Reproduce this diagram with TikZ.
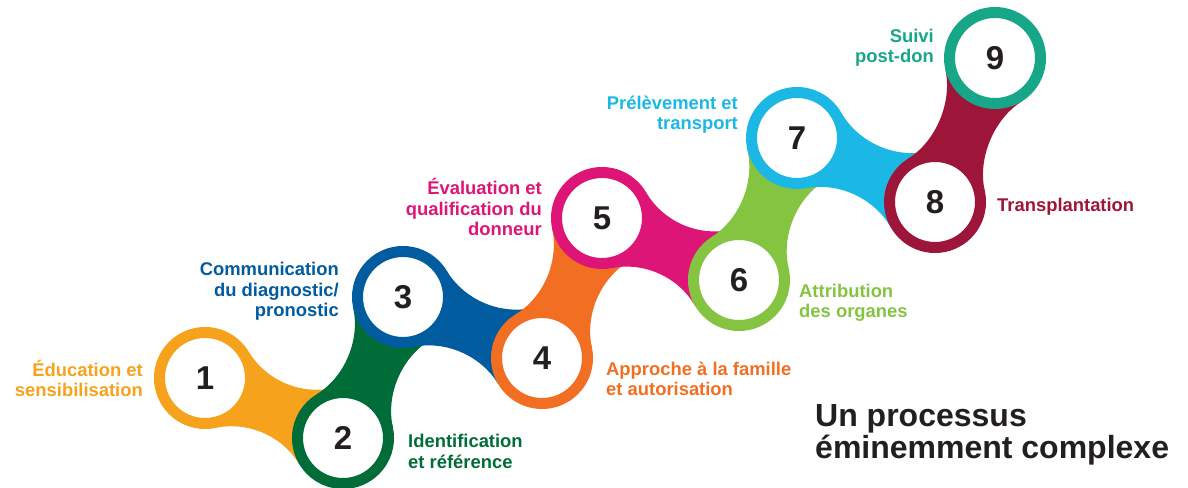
\documentclass[tikz,border=0pt]{standalone}
\usepackage{fontspec}
\setmainfont{Liberation Sans}
\usepackage{tikz}
\usetikzlibrary{calc}

\pgfdeclarelayer{background}
\pgfsetlayers{background,main}

\definecolor{cOne}{HTML}{F6A21D}
\definecolor{cTwo}{HTML}{006D38}
\definecolor{cThree}{HTML}{005B9F}
\definecolor{cFour}{HTML}{F26E22}
\definecolor{cFive}{HTML}{DC1577}
\definecolor{cSix}{HTML}{84C441}
\definecolor{cSeven}{HTML}{1BB8E5}
\definecolor{cEight}{HTML}{9D1539}
\definecolor{cNine}{HTML}{17A688}
\definecolor{ink}{HTML}{231F20}

\newcommand{\neck}[3]{%
	\fill[#3] let \p1=(#1.center), \p2=(#2.center), \n1={atan2(\y2-\y1,\x2-\x1)} in
		($(\p1)+(\n1+54.5:51pt)$) .. controls +(\n1-35.5:33pt) and +(\n1+215.5:33pt) .. ($(\p2)+(\n1+125.5:51pt)$)
		-- ($(\p2)+(\n1+234.5:51pt)$) .. controls +(\n1+144.5:33pt) and +(\n1+35.5:33pt) .. ($(\p1)+(\n1-54.5:51pt)$)
		-- cycle;}

\begin{document}
\begin{tikzpicture}[
		x=1pt, y=1pt,
		stage/.style={
			circle,
			draw=#1,
			fill=white,
			line width=11pt,
			minimum size=91pt,
			inner sep=0pt,
			text=ink,
			font=\fontsize{33}{33}\selectfont\bfseries
		},
		tagright/.style={
			anchor=base east,
			align=right,
			inner sep=0pt,
			text=#1,
			font=\fontsize{18.4}{20.5}\selectfont\bfseries
		},
		tagleft/.style={
			anchor=base west,
			align=left,
			inner sep=0pt,
			text=#1,
			font=\fontsize{18.4}{20.5}\selectfont\bfseries
		}
	]
	
	\useasboundingbox (0,0) rectangle (1188,487);
	
	\node[stage=cOne] (c1) at (205,109) {1};
	\node[stage=cTwo] (c2) at (343,49) {2};
	\node[stage=cThree] (c3) at (403,190) {3};
	\node[stage=cFour] (c4) at (542,129) {4};
	\node[stage=cFive] (c5) at (602,269) {5};
	\node[stage=cSix] (c6) at (739,207) {6};
	\node[stage=cSeven] (c7) at (797,349) {7};
	\node[stage=cEight] (c8) at (935,285) {8};
	\node[stage=cNine] (c9) at (995,429) {9};
	
	\begin{pgfonlayer}{background}
		\neck{c1}{c2}{cOne}
		\neck{c2}{c3}{cTwo}
		\neck{c3}{c4}{cThree}
		\neck{c4}{c5}{cFour}
		\neck{c5}{c6}{cFive}
		\neck{c6}{c7}{cSix}
		\neck{c7}{c8}{cSeven}
		\neck{c8}{c9}{cEight}
	\end{pgfonlayer}
	
	\node[tagright=cOne] (t1) at (143,90) {Éducation et\\sensibilisation};
	\node[tagleft=cTwo] (t2) at (408,19) {Identification\\et référence};
	\node[tagright=cThree] (t3) at (339,170) {Communication\\du diagnostic/\\pronostic};
	\node[tagleft=cFour] (t4) at (606,91) {Approche à la famille\\et autorisation};
	\node[tagright=cFive] (t5) at (542,251) {Évaluation et\\qualification du\\donneur};
	\node[tagleft=cSix] (t6) at (799,169) {Attribution\\des organes};
	\node[tagright=cSeven] (t7) at (738,357) {Prélèvement et\\transport};
	\node[tagleft=cEight] (t8) at (997,275) {Transplantation};
	\node[tagright=cNine] (t9) at (934,424) {Suivi\\post-don};
	
	\node[anchor=base west, align=left, inner sep=0pt, text=ink, font=\fontsize{32}{32}\selectfont\bfseries] (title) at (815,28) {Un processus\\éminemment complexe};
	
\end{tikzpicture}
\end{document}
